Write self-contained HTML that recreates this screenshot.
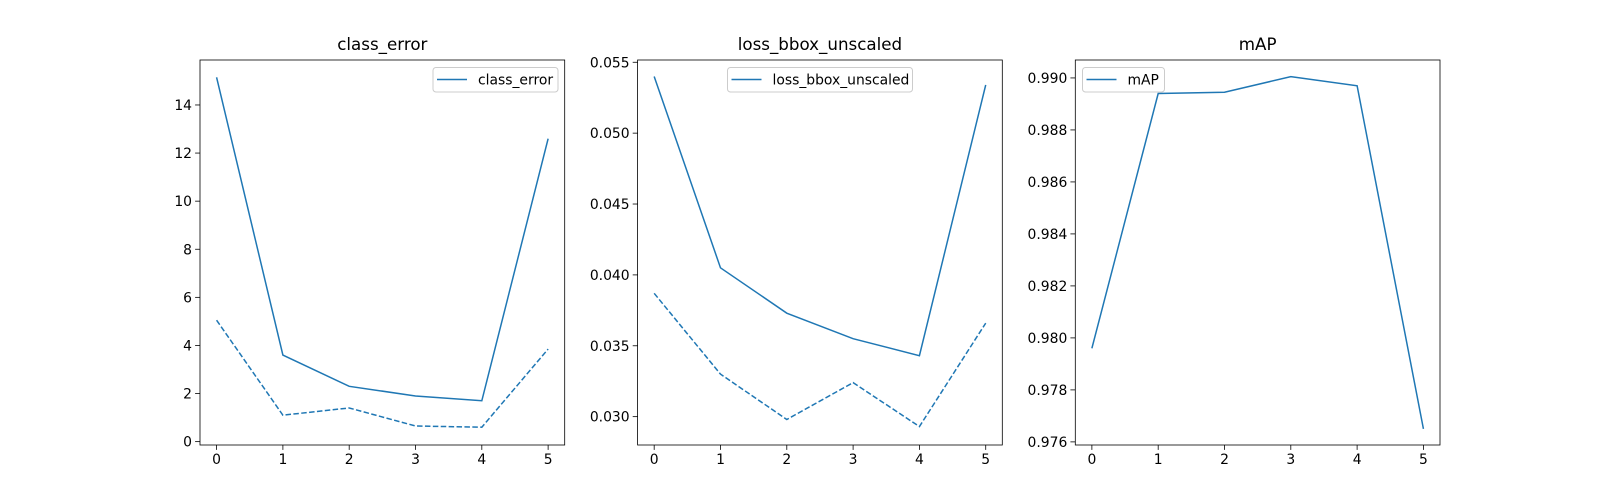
<!DOCTYPE html>
<html><head><meta charset="utf-8"><style>
body{margin:0;background:#fff}
svg{display:block;font-family:"DejaVu Sans","Liberation Sans",sans-serif}
</style></head><body>
<svg id="fig" width="1600" height="500" xmlns="http://www.w3.org/2000/svg"></svg>
<script>
const xCats = [0, 1, 2, 3, 4, 5];
const classErrorSolid = [15.15, 3.6, 2.3, 1.9, 1.7, 12.6];
const classErrorDashed = [5.05, 1.1, 1.4, 0.65, 0.6, 3.85];
const classErrorTicks = [0, 2, 4, 6, 8, 10, 12, 14];
const bboxSolid = [0.0540, 0.0405, 0.0373, 0.0355, 0.0343, 0.0534];
const bboxDashed = [0.0387, 0.0330, 0.0298, 0.0324, 0.0293, 0.0366];
const bboxTicks = [0.030, 0.035, 0.040, 0.045, 0.050, 0.055];
const mapSolid = [0.9796, 0.9894, 0.98945, 0.99005, 0.9897, 0.9765];
const mapTicks = [0.976, 0.978, 0.980, 0.982, 0.984, 0.986, 0.988, 0.990];

const NS = "http://www.w3.org/2000/svg";
const fig = document.getElementById('fig');
const C = '#1f77b4';
function mk(tag, attrs, parent){const e=document.createElementNS(NS,tag);for(const k in attrs)e.setAttribute(k,attrs[k]);(parent||fig).appendChild(e);return e;}

const panels = [
 {name:'class-error', title:'class_error', x0:200, ymin:-0.14, ymax:15.87, series:[classErrorSolid, classErrorDashed], ticks:classErrorTicks, fmt:v=>String(v), legend:{x:433,w:125}},
 {name:'loss-bbox', title:'loss_bbox_unscaled', x0:637.6, ymin:0.02800, ymax:0.05516, series:[bboxSolid, bboxDashed], ticks:bboxTicks, fmt:v=>v.toFixed(3), legend:{x:727.5,w:185}},
 {name:'map', title:'mAP', x0:1075.3, ymin:0.97588, ymax:0.99069, series:[mapSolid], ticks:mapTicks, fmt:v=>v.toFixed(3), legend:{x:1082.5,w:82}}
];
const W = 364.7, T = 60, B = 445;
panels.forEach(p=>{
  const g = mk('g',{});
  
  
  const xs = v => p.x0 + (v+0.25)/5.5*W;
  const ys = v => B - (v-p.ymin)/(p.ymax-p.ymin)*(B-T);
  p.series.forEach((s,i)=>{
    const pl = mk('polyline',{points:s.map((v,j)=>xs(xCats[j])+','+ys(v)).join(' '),fill:'none',stroke:C,'stroke-width':1.5,'stroke-dasharray':i? '5.5,2.4':'none'},g);
    
    
  });
  const fr = mk('rect',{x:p.x0,y:T,width:W,height:B-T,fill:'none',stroke:'#000','stroke-width':0.8},g);
  
  
  xCats.forEach(v=>{
    mk('line',{x1:xs(v),x2:xs(v),y1:B,y2:B+4.9,stroke:'#000','stroke-width':0.8},g);
    const t = mk('text',{x:xs(v),y:B+19,'font-size':13.9,'text-anchor':'middle'},g);
    t.textContent=v;
    
    
  });
  p.ticks.forEach(v=>{
    mk('line',{x1:p.x0-4.9,x2:p.x0,y1:ys(v),y2:ys(v),stroke:'#000','stroke-width':0.8},g);
    const t = mk('text',{x:p.x0-8,y:ys(v)+5,'font-size':13.9,'text-anchor':'end'},g);
    t.textContent=p.fmt(v);
    
    
  });
  const tt = mk('text',{x:p.x0+W/2,y:T-10,'font-size':16.7,'text-anchor':'middle'},g);
  tt.textContent=p.title;
  
  
  const lg = mk('g',{},g);
  
  
  mk('rect',{x:p.legend.x,y:67.5,width:p.legend.w,height:24.5,rx:3,fill:'#fff',stroke:'#ccc','stroke-width':1},lg);
  mk('line',{x1:p.legend.x+4,x2:p.legend.x+34,y1:79.5,y2:79.5,stroke:C,'stroke-width':1.5},lg);
  const lt = mk('text',{x:p.legend.x+45,y:84.5,'font-size':13.9},lg);
  lt.textContent=p.title;
  
  
});
</script>
</body></html>
